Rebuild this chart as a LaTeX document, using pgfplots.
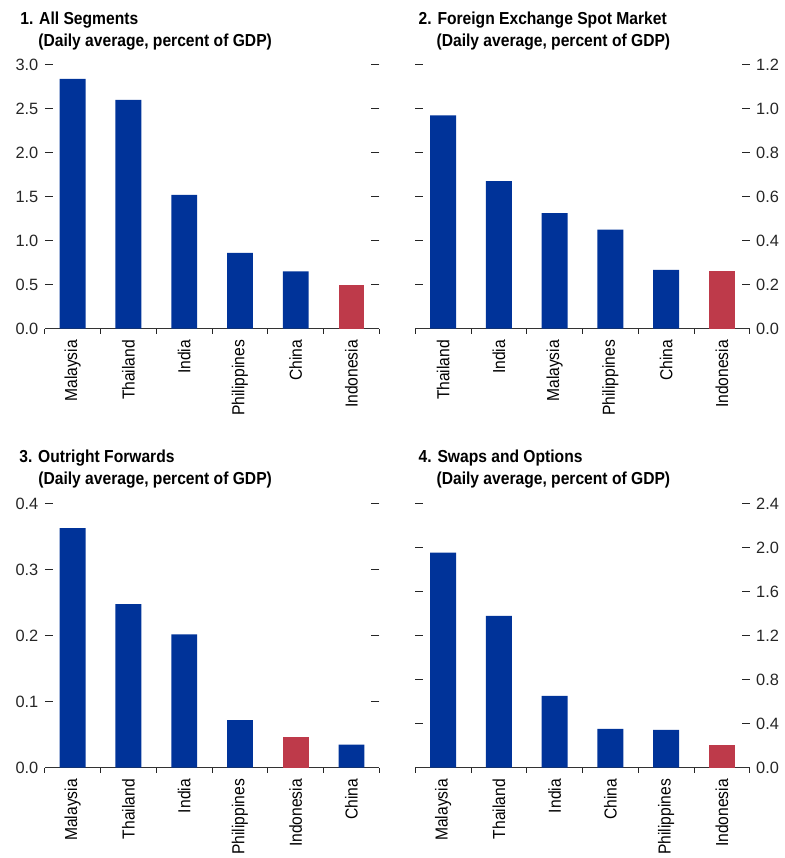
\documentclass[border=0pt]{standalone}
\usepackage{pgfplots}
\pgfplotsset{compat=1.18}
\usepackage{fontspec}
\setmainfont{Liberation Sans}[FakeStretch=0.9]
\newfontfamily\tickfont{Liberation Sans}

\definecolor{barblue}{RGB}{0,51,153}
\definecolor{barred}{RGB}{190,58,74}

\pgfplotsset{
  panel/.style={
    scale only axis, width=336bp, height=265bp, anchor=south west,
    xmin=-0.5, xmax=5.5, ymin=0,
    axis x line*=bottom,
    x axis line style={-, line width=1pt, black!80},
    y axis line style={draw=none},
    tick align=inside,
    major tick length=8bp,
    minor tick length=5bp,
    tick style={black!85, line width=0.8pt},
    xtick={0,...,5},
    xtick style={/pgfplots/major tick length=0pt},
    minor xtick={-0.5,0.5,1.5,2.5,3.5,4.5,5.5},
    ytick pos=both,
    yticklabel shift=3bp,
    x tick label style={rotate=90, anchor=east, font=\fontsize{17.5}{19}\selectfont},
    y tick label style={font=\tickfont\fontsize{16.5}{18}\selectfont, text=black!85},
    /pgf/number format/.cd, fixed, fixed zerofill, precision=1, assume math mode=true,
    /pgfplots/.cd,
    ybar, bar width=26bp, bar shift=0pt,
  },
  blue bars/.style={draw=none, fill=barblue},
  red bars/.style={draw=none, fill=barred},
}

\begin{document}
\begin{tikzpicture}
\path (0,0) rectangle (788bp,858bp);

% titles
\tikzset{ttl/.style={anchor=base west, font=\bfseries\fontsize{17.5}{19}\selectfont}}
\node[ttl] at (17bp,833bp) {1. All Segments};
\node[ttl] at (35bp,811bp) {(Daily average, percent of GDP)};
\node[ttl] at (417bp,833bp) {2. Foreign Exchange Spot Market};
\node[ttl] at (435bp,811bp) {(Daily average, percent of GDP)};
\node[ttl] at (16bp,393bp) {3. Outright Forwards};
\node[ttl] at (35bp,371bp) {(Daily average, percent of GDP)};
\node[ttl] at (417bp,393bp) {4. Swaps and Options};
\node[ttl] at (435bp,371bp) {(Daily average, percent of GDP)};

% 1. All Segments
\begin{axis}[panel, at={(45bp,528bp)}, ymax=3.0,
  ytick={0,0.5,1.0,1.5,2.0,2.5,3.0},
  yticklabel pos=left,
  xticklabels={Malaysia,Thailand,India,Philippines,China,Indonesia}]
\addplot[blue bars] coordinates {(0,2.84) (1,2.60) (2,1.52) (3,0.86) (4,0.65)};
\addplot[red bars] coordinates {(5,0.50)};
\end{axis}

% 2. Foreign Exchange Spot Market
\begin{axis}[panel, at={(417bp,528bp)}, ymax=1.2,
  ytick={0,0.2,0.4,0.6,0.8,1.0,1.2},
  yticklabel pos=right,
  xticklabels={Thailand,India,Malaysia,Philippines,China,Indonesia}]
\addplot[blue bars] coordinates {(0,0.97) (1,0.67) (2,0.525) (3,0.45) (4,0.267)};
\addplot[red bars] coordinates {(5,0.262)};
\end{axis}

% 3. Outright Forwards
\begin{axis}[panel, at={(45bp,87bp)}, ymax=0.4,
  ytick={0,0.1,0.2,0.3,0.4},
  yticklabel pos=left,
  xticklabels={Malaysia,Thailand,India,Philippines,Indonesia,China}]
\addplot[blue bars] coordinates {(0,0.363) (1,0.248) (2,0.202) (3,0.072) (5,0.035)};
\addplot[red bars] coordinates {(4,0.047)};
\end{axis}

% 4. Swaps and Options
\begin{axis}[panel, at={(417bp,87bp)}, ymax=2.4,
  ytick={0,0.4,0.8,1.2,1.6,2.0,2.4},
  yticklabel pos=right,
  xticklabels={Malaysia,Thailand,India,China,Philippines,Indonesia}]
\addplot[blue bars] coordinates {(0,1.955) (1,1.38) (2,0.654) (3,0.352) (4,0.343)};
\addplot[red bars] coordinates {(5,0.202)};
\end{axis}
\end{tikzpicture}
\end{document}
